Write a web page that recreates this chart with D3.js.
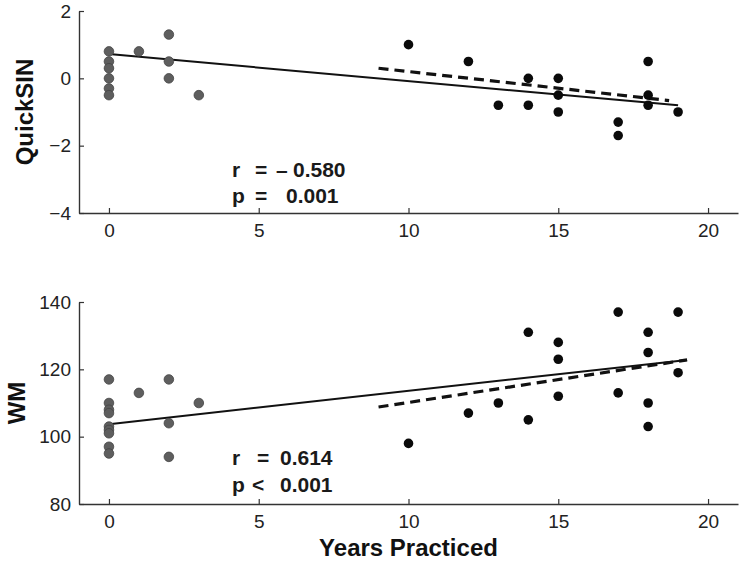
<!DOCTYPE html>
<html>
<head>
<meta charset="utf-8">
<script src="https://cdn.jsdelivr.net/npm/d3@7"></script>
<style>
  html, body { margin: 0; padding: 0; background: #fff; }
  svg { display: block; font-family: "Liberation Sans", Arial, sans-serif; }
  .tick text { fill: #222; }
</style>
</head>
<body>
<svg id="chart" width="745" height="562"></svg>
<script>
// ---- Data ----
const xTicks = [0, 5, 10, 15, 20];
const quickYTicks = [-4, -2, 0, 2];
const wmYTicks = [80, 100, 120, 140];

// QuickSIN panel: non-musicians (gray) and musicians (black)
const quickGrayX = [0, 0, 0, 0, 0, 0, 1, 2, 2, 2, 3];
const quickGrayY = [0.8, 0.5, 0.3, 0, -0.3, -0.5, 0.8, 1.3, 0.5, 0, -0.5];
const quickBlackX = [10, 12, 13, 14, 14, 15, 15, 15, 17, 17, 18, 18, 18, 19];
const quickBlackY = [1.0, 0.5, -0.8, 0, -0.8, 0, -0.5, -1.0, -1.3, -1.7, 0.5, -0.5, -0.8, -1.0];
const quickFitAllX = [0, 19];
const quickFitAllY = [0.72, -0.8];
const quickFitMusX = [9, 18.7];
const quickFitMusY = [0.3, -0.66];

// WM panel
const wmGrayX = [0, 0, 0, 0, 0, 0, 0, 0, 0, 1, 2, 2, 2, 3];
const wmGrayY = [117, 110, 108, 107, 103, 102, 101, 97, 95, 113, 117, 104, 94, 110];
const wmBlackX = [10, 12, 13, 14, 14, 15, 15, 15, 17, 17, 18, 18, 18, 18, 19, 19];
const wmBlackY = [98, 107, 110, 131, 105, 128, 123, 112, 137, 113, 131, 125, 110, 103, 137, 119];
const wmFitAllX = [0, 19.3];
const wmFitAllY = [103.7, 122.8];
const wmFitMusX = [9, 19.3];
const wmFitMusY = [108.8, 122.8];

const panels = [
  { label: "QuickSIN", yDomain: [-4, 2], yTicks: quickYTicks, top: 11, bottom: 213,
    grayX: quickGrayX, grayY: quickGrayY, blackX: quickBlackX, blackY: quickBlackY,
    fitAllX: quickFitAllX, fitAllY: quickFitAllY, fitMusX: quickFitMusX, fitMusY: quickFitMusY,
    labelX: 33,
    stats: [
      { parts: [["r", 232], ["=", 255], ["\u2013", 276], ["0.580", 293]], y: 177 },
      { parts: [["p", 232], ["=", 255], ["0.001", 286]], y: 203 }
    ] },
  { label: "WM", yDomain: [80, 140], yTicks: wmYTicks, top: 302, bottom: 504,
    grayX: wmGrayX, grayY: wmGrayY, blackX: wmBlackX, blackY: wmBlackY,
    fitAllX: wmFitAllX, fitAllY: wmFitAllY, fitMusX: wmFitMusX, fitMusY: wmFitMusY,
    labelX: 25,
    stats: [
      { parts: [["r", 232], ["=", 257], ["0.614", 280]], y: 465 },
      { parts: [["p", 232], ["<", 252], ["0.001", 280]], y: 492 }
    ] }
];

const svg = d3.select("#chart");
const x = d3.scaleLinear().domain([-1, 21]).range([79, 738]);
const fmt = d => (d < 0 ? "\u2212" + Math.abs(d) : String(d));

panels.forEach(p => {
  const y = d3.scaleLinear().domain(p.yDomain).range([p.bottom, p.top]);
  const g = svg.append("g");

  // axes
  const xAxis = g.append("g")
    .attr("transform", `translate(0,${p.bottom})`)
    .call(d3.axisBottom(x).tickValues(xTicks).tickSizeInner(-5).tickSizeOuter(0).tickPadding(11));
  const yAxis = g.append("g")
    .attr("transform", `translate(${x.range()[0]},0)`)
    .call(d3.axisLeft(y).tickValues(p.yTicks).tickFormat(fmt).tickSizeInner(-5).tickSizeOuter(0).tickPadding(8));
  [xAxis, yAxis].forEach(a => {
    a.select(".domain").attr("stroke", "#333").attr("stroke-width", 1.4);
    a.selectAll(".tick line").attr("stroke", "#333").attr("stroke-width", 1.2);
    a.selectAll(".tick text").attr("font-size", 19).attr("fill", "#222");
  });

  // y label
  g.append("text")
    .attr("transform", `translate(${p.labelX},${(p.top + p.bottom) / 2}) rotate(-90)`)
    .attr("text-anchor", "middle")
    .attr("font-size", 24).attr("font-weight", "bold").attr("fill", "#111")
    .text(p.label);

  // regression lines
  const line = d3.line().x(d => x(d[0])).y(d => y(d[1]));
  g.append("path")
    .datum(p.fitAllX.map((v, i) => [v, p.fitAllY[i]]))
    .attr("d", line).attr("fill", "none").attr("stroke", "#111").attr("stroke-width", 2);
  g.append("path")
    .datum(p.fitMusX.map((v, i) => [v, p.fitMusY[i]]))
    .attr("d", line).attr("fill", "none").attr("stroke", "#111").attr("stroke-width", 3.2)
    .attr("stroke-dasharray", "10,6");

  // points
  g.selectAll(".gray").data(p.grayX.map((v, i) => [v, p.grayY[i]])).enter()
    .append("circle").attr("class", "gray")
    .attr("cx", d => x(d[0])).attr("cy", d => y(d[1])).attr("r", 4.8)
    .attr("fill", "#5e5e5e").attr("stroke", "#444").attr("stroke-width", 0.8);
  g.selectAll(".black").data(p.blackX.map((v, i) => [v, p.blackY[i]])).enter()
    .append("circle").attr("class", "black")
    .attr("cx", d => x(d[0])).attr("cy", d => y(d[1])).attr("r", 4.8)
    .attr("fill", "#0a0a0a");

  // stats text
  p.stats.forEach(s => {
    const t = g.append("text").attr("y", s.y).attr("font-size", 21)
      .attr("font-weight", "bold").attr("fill", "#1a1a1a");
    s.parts.forEach(([txt, px]) => t.append("tspan").attr("x", px).text(txt));
  });
});

// x label
svg.append("text")
  .attr("x", (x.range()[0] + x.range()[1]) / 2)
  .attr("y", 556)
  .attr("text-anchor", "middle")
  .attr("font-size", 24).attr("font-weight", "bold").attr("fill", "#111")
  .text("Years Practiced");
</script>
</body>
</html>
